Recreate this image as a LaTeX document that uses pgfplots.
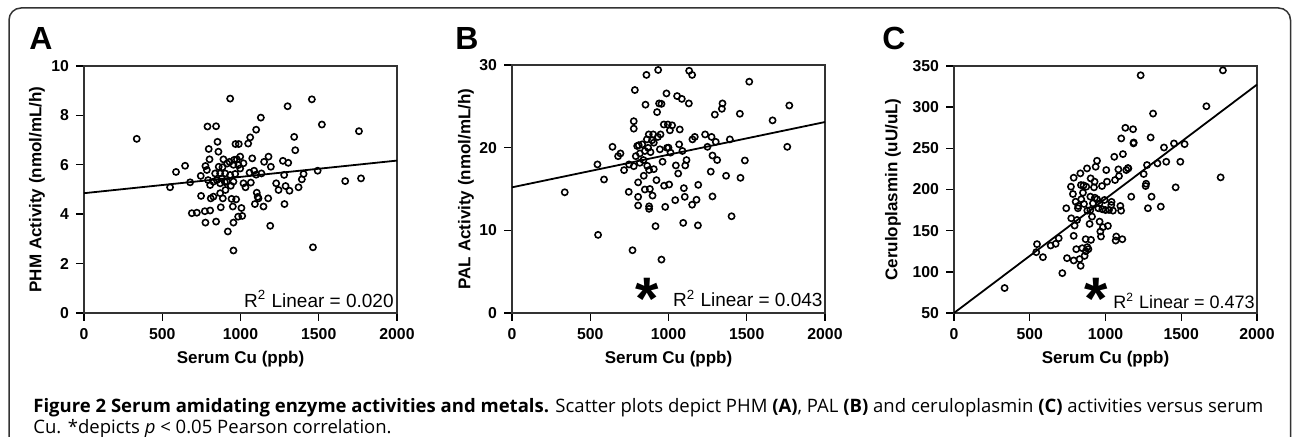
\documentclass[border=0pt]{standalone}
\usepackage{fontspec}
\setmainfont{Liberation Sans}
\newfontfamily\capfont{Open Sans}
\usepackage{graphicx}
\usepackage{pgfplots}
\pgfplotsset{compat=1.18}
\usepackage{pgfplotstable}

\pgfplotstableread{
x y
337 7.05
550 5.09
588 5.71
646 5.96
678 5.29
689 4.04
721 4.06
746 5.55
748 4.74
776 3.66
772 4.12
789 7.55
797 6.64
802 6.22
776 5.95
785 5.79
793 5.38
806 5.18
810 4.64
806 4.15
844 7.56
853 6.93
859 6.53
844 3.70
838 5.65
849 5.38
861 5.92
870 5.25
870 4.85
874 4.28
887 4.64
891 6.22
902 5.65
913 5.32
904 4.98
919 3.30
930 6.12
934 8.68
938 5.15
951 4.31
955 2.53
955 3.66
966 5.63
968 6.84
972 4.60
989 6.84
977 6.22
987 5.99
985 3.90
998 6.33
1006 4.25
1011 3.93
1019 6.06
1032 5.09
1049 6.86
1062 7.11
1058 5.68
1066 5.28
1075 6.26
1087 5.76
1092 4.41
1100 7.42
1104 4.87
1115 4.64
1130 7.91
1134 5.65
1147 4.31
1151 6.12
1177 4.64
1179 6.33
1190 3.53
1194 5.92
1228 5.25
1243 4.98
1271 6.16
1279 5.59
1281 4.41
1288 5.14
1301 8.37
1305 6.08
1313 4.95
1343 7.13
1350 6.59
1371 5.09
1392 5.41
1403 5.63
1456 8.65
1463 2.66
1493 5.76
1520 7.63
1669 5.34
1757 7.36
1770 5.45
827 5.32
934 5.59
955 5.32
998 5.85
1019 5.25
827 4.71
870 5.65
885 5.90
915 6.05
960 6.20
880 5.45
900 5.30
943 4.62
1110 4.70
1100 5.60
955 6.00
}\dataA

\pgfplotstableread{
x y
337 14.6
550 9.45
546 17.97
588 16.15
642 20.1
678 18.97
693 19.3
716 17.28
746 14.65
748 17.97
770 7.59
778 23.2
778 22.3
785 26.97
778 17.76
791 18.97
800 20.2
806 15.8
806 14.05
806 13.0
817 18.17
832 20.4
842 16.6
849 14.94
853 25.2
859 28.8
870 19.98
874 21.6
876 17.3
876 12.9
881 15.0
885 19.46
898 14.2
902 21.6
906 17.4
917 10.5
923 16.07
927 24.3
932 21.3
934 29.4
940 25.35
945 19.8
949 21.6
955 6.46
962 18.3
970 22.8
972 15.4
979 12.84
987 26.56
991 19.98
996 22.8
1004 15.54
1009 22.1
1013 19.4
1023 22.7
1043 13.65
1047 17.85
1055 26.24
1062 16.87
1068 20.4
1072 22.2
1085 25.9
1089 19.6
1094 10.9
1098 15.1
1104 14.05
1107 17.85
1115 18.5
1130 25.35
1132 29.3
1151 28.8
1151 13.1
1168 21.3
1179 13.7
1190 15.5
1188 10.6
1234 21.6
1249 20.1
1270 17.1
1275 21.3
1281 14.1
1281 19.05
1296 24.0
1302 20.7
1311 18.5
1345 25.35
1341 24.7
1368 16.6
1392 21.0
1403 11.7
1456 24.1
1460 16.35
1488 18.45
1516 27.98
1665 23.3
1759 20.1
1772 25.1
817 19.3
849 19.6
864 17.8
906 20.6
876 12.6
955 25.3
862 21.0
895 20.9
810 20.3
840 18.5
1000 20.0
1153 21.0
}\dataB

\pgfplotstableread{
x y
334 80.3
548 133.6
543 123.9
587 117.8
638 132
671 134
691 140.8
715 98.4
741 177.2
746 116.6
772 203.4
774 165
785 194.5
790 214.3
790 143.7
796 156.2
790 113.8
803 185.2
807 127.5
812 163
818 177.2
829 115.4
834 219.6
838 205.4
840 188.1
836 107.3
847 128.7
851 196.1
858 182.4
862 119.4
869 139.6
873 203.4
878 225.6
880 174.3
887 127.5
895 158.2
900 191.3
902 213.5
904 138.8
911 167.1
917 183.2
924 202.6
928 209.5
935 227.6
944 234.9
944 188.1
953 177.2
961 161
966 148.9
970 142.9
977 204.2
979 176
983 154.2
994 187.3
1005 223.6
1010 209.5
1016 155.8
1023 175.2
1038 181.2
1049 174.3
1058 239.7
1063 211.5
1067 138
1071 142.9
1085 224.4
1089 216.3
1098 180
1103 174.3
1104 262
1111 139.6
1115 243
1131 274.9
1137 223.6
1151 225.6
1170 191.3
1182 273.2
1186 257.1
1252 218.8
1265 204.2
1274 229.7
1280 177.2
1298 263.2
1304 191.3
1314 292.2
1343 231.7
1365 179.2
1386 251
1401 233.7
1452 255.9
1463 202.6
1494 233.7
1522 255.1
1232 338.7
1666 301.1
1760 214.7
1775 344.7
1185 256
1148 226
1268 207
880 130
870 125
900 175
930 190
960 183
820 180
855 205
1040 185
1000 175
}\dataC

\pgfplotsset{
  panel/.style={
    scale only axis, clip=false,
    xmin=0, xmax=2000, xtick={0,500,1000,1500,2000},
    axis line style={black!80, line width=0.7pt},
    tick align=outside, tick pos=left,
    major tick length=4pt,
    every tick/.style={black, line width=0.7pt},
    tick label style={font=\fontsize{7.9}{8}\selectfont\bfseries},
    /pgf/number format/assume math mode=true,
    /pgf/number format/1000 sep={},
    xlabel={Serum Cu (ppb)},
    xlabel style={at={(axis description cs:0.5,-0.205)}, anchor=base, font=\fontsize{8.5}{9}\selectfont\bfseries},
    ylabel style={anchor=center, font=\fontsize{8.5}{9}\selectfont\bfseries},
  },
  pts/.style={only marks, mark=o, mark size=1.55pt, mark options={line width=0.8pt, black}},
  fit/.style={black, line width=0.9pt, no marks},
}

\begin{document}
\begin{tikzpicture}[x=0.5pt, y=0.5pt]
\useasboundingbox (0,0) rectangle (1292,437);
% frame (bottom edge lies below the visible area)
\begin{scope}
\clip (0,0) rectangle (1292,437);
\draw[black!80, line width=0.75pt, rounded corners=6pt] (9,-20) rectangle (1290.5,429);
\end{scope}

% panel letters
\node[anchor=base west, inner sep=0, font=\fontsize{16}{16}\selectfont\bfseries] at (29,387) {A};
\node[anchor=base west, inner sep=0, font=\fontsize{16}{16}\selectfont\bfseries] at (455,387) {B};
\node[anchor=base west, inner sep=0, font=\fontsize{16}{16}\selectfont\bfseries] at (882,387) {C};

% Panel A
\begin{axis}[panel, at={(42pt,62pt)}, anchor=south west, width=156.5pt, height=123.5pt,
  ymin=0, ymax=10, ytick={0,2,4,6,8,10},
  ylabel={PHM Activity (nmol/mL/h)},
  ylabel style={at={(axis description cs:-0.150,0.5)}}]
\addplot[pts] table[x=x, y=y] {\dataA};
\addplot[fit] coordinates {(0,4.85) (2000,6.17)};
\node[anchor=base east, inner sep=0, font=\fontsize{9.5}{10}\selectfont] at (axis cs:1981,0.24) {R\textsuperscript{2} Linear = 0.020};
\end{axis}

% Panel B
\begin{axis}[panel, at={(256pt,62pt)}, anchor=south west, width=156.5pt, height=124pt,
  ymin=0, ymax=30, ytick={0,10,20,30},
  ylabel={PAL Activity (nmol/mL/h)},
  ylabel style={at={(axis description cs:-0.147,0.5)}}]
\addplot[pts] table[x=x, y=y] {\dataB};
\addplot[fit] coordinates {(0,15.2) (2000,23.1)};
\node[anchor=base east, inner sep=0, font=\fontsize{9.5}{10}\selectfont] at (axis cs:1987,0.73) {R\textsuperscript{2} Linear = 0.043};
\node[anchor=base, inner sep=0, font=\fontsize{30}{30}\selectfont\bfseries] at (axis cs:866,-0.8) {\smash{*}};
\end{axis}

% Panel C
\begin{axis}[panel, at={(477pt,62pt)}, anchor=south west, width=151.5pt, height=123.5pt,
  ymin=50, ymax=350, ytick={50,100,150,200,250,300,350},
  ylabel={Ceruloplasmin (uU/uL)},
  ylabel style={at={(axis description cs:-0.201,0.5)}}]
\addplot[pts] table[x=x, y=y] {\dataC};
\addplot[fit] coordinates {(0,50) (2000,327.4)};
\node[anchor=base east, inner sep=0, font=\fontsize{9}{10}\selectfont] at (axis cs:1987,54.9) {R\textsuperscript{2} Linear = 0.473};
\node[anchor=base, inner sep=0, font=\fontsize{30}{30}\selectfont\bfseries] at (axis cs:937,42) {\smash{*}};
\end{axis}

% caption
\node[anchor=base west, inner sep=0] at (33,24) {\resizebox{615pt}{!}{\capfont\fontsize{8.25}{9}\selectfont
\begin{tabular}[t]{@{}l@{}}
\textbf{Figure 2 Serum amidating enzyme activities and metals.} Scatter plots depict PHM \textbf{(A)}, PAL \textbf{(B)} and ceruloplasmin \textbf{(C)} activities versus serum\\
Cu. *depicts \textit{p} < 0.05 Pearson correlation.
\end{tabular}}};
\end{tikzpicture}
\end{document}
